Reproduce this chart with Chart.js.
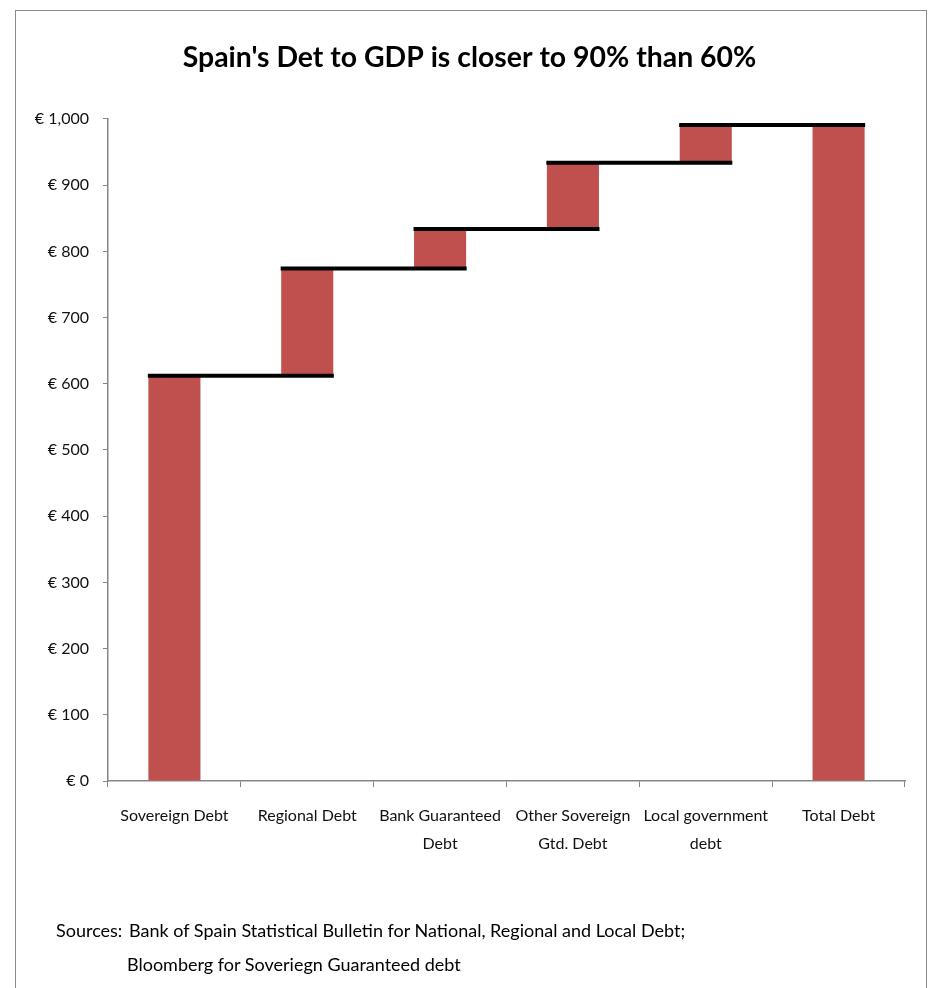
<!DOCTYPE html>
<html>
<head>
<meta charset="utf-8">
<script src="https://cdn.jsdelivr.net/npm/chart.js@4/dist/chart.umd.min.js"></script>
<style>
  html, body { margin: 0; padding: 0; background: #ffffff; }
  body { width: 929px; height: 988px; position: relative; overflow: hidden; }
  #frame { position: absolute; left: 15px; top: 10px; width: 912px; height: 1000px;
           border: 1.5px solid #8c8c8c; box-sizing: border-box; }
  #chart { position: absolute; left: 0; top: 0; }
  .src { position: absolute; font-family: Lato, 'Open Sans', sans-serif;
         font-size: 18px; color: #000; white-space: nowrap; line-height: 20px; }
</style>
</head>
<body>
<div id="frame"></div>
<canvas id="chart" width="929" height="988"></canvas>
<div class="src" style="left:56px; top:920px;">Sources:</div>
<div class="src" style="left:129px; top:920px;">Bank of Spain Statistical Bulletin for National, Regional and Local Debt;</div>
<div class="src" style="left:127px; top:954px;">Bloomberg for Soveriegn Guaranteed debt</div>
<script>
// Debt components, € billions
const categories = [
  'Sovereign Debt',
  'Regional Debt',
  ['Bank Guaranteed', 'Debt'],
  ['Other Sovereign', 'Gtd. Debt'],
  ['Local government', 'debt'],
  'Total Debt'
];
const components = [612, 162, 60, 100, 57];
const totalDebt = 991;
const yTicks = [0, 100, 200, 300, 400, 500, 600, 700, 800, 900, 1000];

const FONT = "Lato, 'Open Sans', sans-serif";
const BAR_RED = '#C0504D';
const AXIS_GREY = '#868686';

// floating bars: each component starts where the previous one ended
const ranges = [];
let running = 0;
components.forEach(v => { ranges.push([running, running + v]); running += v; });
ranges.push([0, totalDebt]);

// step connectors: level of each running total, spanning to the next bar
const stepSets = ranges.slice(0, components.length).map((r, i) => ({
  type: 'line',
  xAxisID: 'xl',
  data: [{ x: i - 0.2, y: r[1] }, { x: i + 1.2, y: r[1] }],
  borderColor: '#000000',
  borderWidth: 4,
  borderCapStyle: 'butt',
  pointRadius: 0,
  fill: false,
  order: 0
}));

new Chart(document.getElementById('chart'), {
  type: 'bar',
  data: {
    labels: categories,
    datasets: [
      {
        data: ranges,
        backgroundColor: BAR_RED,
        borderWidth: 0,
        grouped: false,
        barPercentage: 0.4,
        categoryPercentage: 0.98,
        order: 1
      },
      ...stepSets
    ]
  },
  options: {
    responsive: false,
    animation: false,
    events: [],
    layout: { padding: { left: 34, right: 24, top: 0, bottom: 107 } },
    plugins: {
      legend: { display: false },
      tooltip: { enabled: false },
      title: {
        display: true,
        text: "Spain's Det to GDP is closer to 90% than 60%",
        color: '#000000',
        font: { family: FONT, size: 28.4, weight: 'bold', lineHeight: 1.2 },
        padding: { top: 40.5, bottom: 44.4 }
      }
    },
    scales: {
      x: {
        type: 'category',
        offset: true,
        grid: { display: true, offset: true, drawOnChartArea: false, tickLength: 6, color: AXIS_GREY, lineWidth: 1 },
        border: { display: true, color: AXIS_GREY, width: 1.5 },
        ticks: { color: '#111111', padding: 14, maxRotation: 0, autoSkip: false,
                 font: { family: FONT, size: 16, lineHeight: 1.8 } },
        afterFit: s => { s.height = 100; }
      },
      xl: { type: 'linear', min: -0.5, max: 5.5, offset: false, display: false },
      y: {
        min: 0, max: 1000,
        afterBuildTicks: s => { s.ticks = yTicks.map(v => ({ value: v })); },
        grid: { display: true, drawOnChartArea: false, tickLength: 5, color: AXIS_GREY, lineWidth: 1 },
        border: { display: true, color: AXIS_GREY, width: 1.5 },
        ticks: { color: '#111111', padding: 14,
                 font: { family: FONT, size: 16 },
                 callback: v => '€ ' + v.toLocaleString('en-US') },
        afterFit: s => { s.width = 74; }
      }
    }
  }
});
</script>
</body>
</html>
